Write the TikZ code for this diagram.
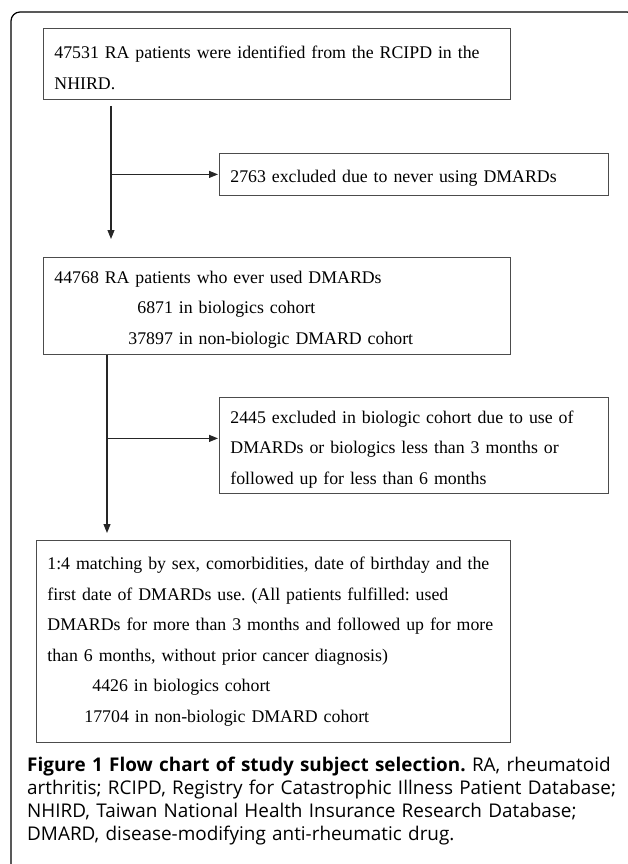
\documentclass[tikz,border=0pt]{standalone}
\usepackage{fontspec}
\setmainfont{Liberation Serif}
\newfontfamily\capfont{Open Sans}
\usetikzlibrary{arrows.meta}
\newcommand\tstrut{\rule{0pt}{20pt}}
\tikzset{
  box/.style={
    draw=black!70,
    line width=0.8pt,
    anchor=north west,
    inner xsep=11pt,
    inner ysep=0pt,
    align=left,
    font=\fontsize{17.8}{30.5}\selectfont\frenchspacing
  },
  flow/.style={
    draw=black!85,
    line width=1.1pt,
    shorten >=1pt,
    -{Triangle[length=9pt,width=7pt]}
  },
  caption/.style={
    anchor=north west,
    inner sep=0pt,
    align=left,
    text width=601pt,
    font=\capfont\fontsize{18.9}{23}\selectfont\frenchspacing
  },
}

\begin{document}
\begin{tikzpicture}[x=1pt,y=-1pt]
  \useasboundingbox (0,0) rectangle (628,864);
  \clip (0,0) rectangle (628,864);
  \draw[line width=1.2pt,rounded corners=9pt] (11,12) rectangle (636,900);
  % boxes
  \node[box,text width=445pt,minimum height=71pt] (first) at (43,28)
    {\tstrut 47531 RA patients were identified from the RCIPD in the\\NHIRD.};
  \node[box,text width=367pt,minimum height=42pt] (never) at (219,153)
    {\tstrut 2763 excluded due to never using DMARDs};
  \node[box,text width=445pt,minimum height=97pt] (ever) at (43,257)
    {\tstrut 44768 RA patients who ever used DMARDs\\
     \hspace*{83pt}6871 in biologics cohort\\
     \hspace*{74pt}37897 in non-biologic DMARD cohort};
  \node[box,text width=367pt,minimum height=96pt] (excl) at (219,397)
    {\tstrut 2445 excluded in biologic cohort due to use of\\
     DMARDs or biologics less than 3 months or\\
     followed up for less than 6 months};
  \node[box,text width=452pt,minimum height=202pt] (match) at (36,540)
    {1:4 matching by sex, comorbidities, date of birthday and the\\
     first date of DMARDs use. (All patients fulfilled: used\\
     DMARDs for more than 3 months and followed up for more\\
     than 6 months, without prior cancer diagnosis)\\
     \hspace*{45pt}4426 in biologics cohort\\
     \hspace*{37pt}17704 in non-biologic DMARD cohort};
  % arrows
  \coordinate (s1) at ([xshift=68pt,yshift=-6pt]first.south west);
  \coordinate (s2) at ([xshift=64pt]ever.south west);
  \draw[flow] (s1) -- ([yshift=17pt]s1 |- ever.north);
  \draw[flow] (s1 |- never.west) -- (never.west);
  \draw[flow] (s2) -- ([yshift=6pt]s2 |- match.north);
  \draw[flow] ([yshift=7pt]s2 |- excl.west) -- ([yshift=7pt]excl.west);
  \node[caption] (cap) at (27,757)
    {\textbf{Figure 1 Flow chart of study subject selection.} RA, rheumatoid\\
     arthritis; RCIPD, Registry for Catastrophic Illness Patient Database;\\
     NHIRD, Taiwan National Health Insurance Research Database;\\
     DMARD, disease-modifying anti-rheumatic drug.};
\end{tikzpicture}
\end{document}
